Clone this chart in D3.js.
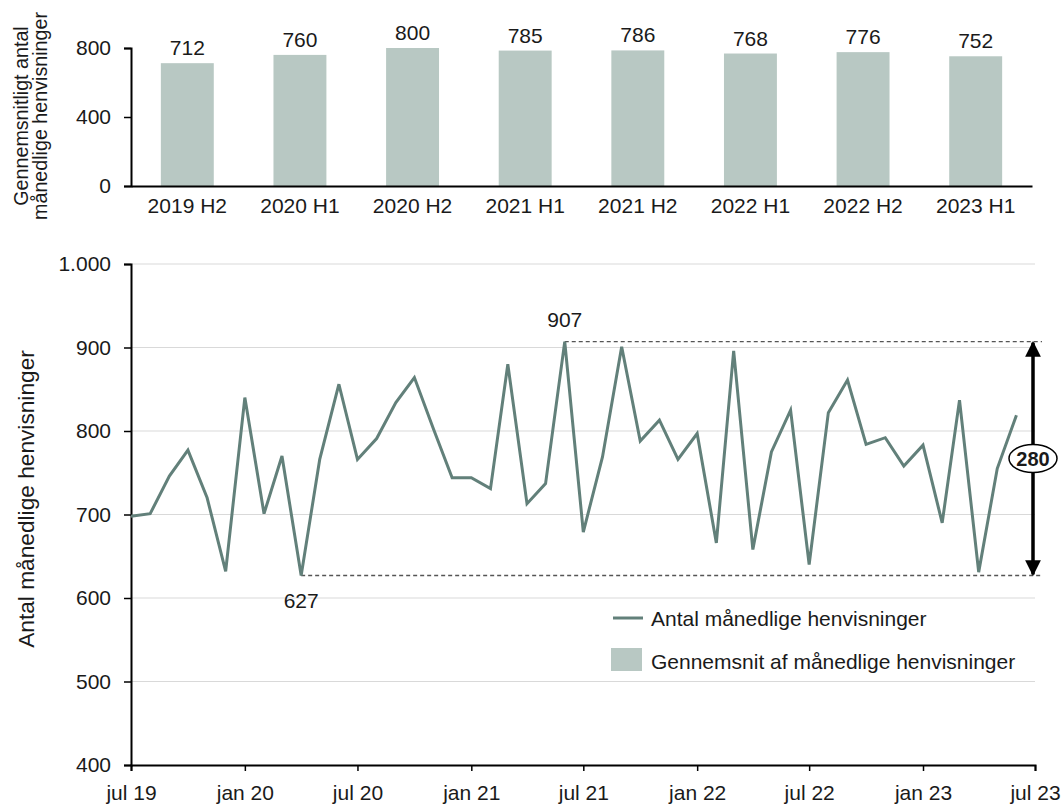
<!DOCTYPE html>
<meta charset="utf-8">
<style>
  body { margin: 0; background: #fff; }
  text { font-family: "Liberation Sans", Arial, sans-serif; fill: #1a1a1a; }
</style>
<svg width="1062" height="805"></svg>
<script src="https://d3js.org/d3.v7.min.js"></script>
<script>

// half-year averages (top panel)
var halves = ["2019 H2", "2020 H1", "2020 H2", "2021 H1", "2021 H2", "2022 H1", "2022 H2", "2023 H1"];
var halfAvg = [712, 760, 800, 785, 786, 768, 776, 752];

// monthly counts jul 19 .. jun 23
var monthly = [698, 701, 746, 777, 720, 632, 840, 701, 770, 627, 766, 856,
               766, 791, 834, 864, 802, 744, 744, 731, 880, 713, 737, 907,
               679, 769, 901, 788, 813, 766, 797, 666, 896, 658, 775, 825,
               640, 822, 861, 784, 792, 758, 783, 690, 837, 631, 755, 819];
var yTicks = [400, 500, 600, 700, 800, 900, 1000];
var topTicks = [0, 400, 800];

var lineColor = "#62807a";
var barColor = "#b8c8c3";
var fs = 21;
var font = "Liberation Sans, Arial, sans-serif";

var svg = d3.select("svg");

function styleAxis(g) {
  g.select(".domain").attr("stroke", "#000").attr("stroke-width", 2);
  g.selectAll(".tick line").attr("stroke", "#000").attr("stroke-width", 1.5);
  g.selectAll("text").attr("font-size", fs).attr("fill", "#1a1a1a").attr("font-family", font);
}

// ---------- top panel ----------
var xb = d3.scaleBand().domain(halves).range([131, 1032]).paddingInner(0.53).paddingOuter(0.265);
var yb = d3.scaleLinear().domain([0, 800]).range([186, 48]);

svg.append("g").selectAll("rect")
  .data(halfAvg)
  .enter().append("rect")
  .attr("x", function(d, i) { return xb(halves[i]); })
  .attr("width", xb.bandwidth())
  .attr("y", function(d) { return yb(d); })
  .attr("height", function(d) { return yb(0) - yb(d); })
  .attr("fill", barColor);

svg.append("g").selectAll("text")
  .data(halfAvg)
  .enter().append("text")
  .attr("x", function(d, i) { return xb(halves[i]) + xb.bandwidth() / 2; })
  .attr("y", function(d) { return yb(d) - 8; })
  .attr("text-anchor", "middle")
  .attr("font-size", fs)
  .text(function(d) { return d; });

svg.append("g")
  .attr("transform", "translate(131,0)")
  .call(d3.axisLeft(yb).tickValues(topTicks).tickSize(7).tickPadding(13))
  .call(styleAxis);

svg.append("g")
  .attr("transform", "translate(0,186)")
  .call(d3.axisBottom(xb).tickSize(0).tickPadding(12))
  .call(styleAxis);

svg.append("text")
  .attr("transform", "translate(28,116) rotate(-90)")
  .attr("text-anchor", "middle")
  .attr("font-size", 19.7)
  .selectAll("tspan")
  .data(["Gennemsnitligt antal", "månedlige henvisninger"])
  .enter().append("tspan")
  .attr("x", 0)
  .attr("dy", function(d, i) { return i === 0 ? 0 : 19; })
  .text(function(d) { return d; });

// ---------- bottom panel ----------
var start = new Date(2019, 6, 1), end = new Date(2023, 6, 1);
var months = d3.timeMonth.range(start, end); // jul 19 .. jun 23
var x = d3.scaleTime().domain([start, end]).range([131, 1035]);
var y = d3.scaleLinear().domain([400, 1000]).range([765, 264]);

// gridlines
svg.append("g").selectAll("line")
  .data(yTicks.filter(function(d) { return d > 400; }))
  .enter().append("line")
  .attr("x1", 131).attr("x2", 1035)
  .attr("y1", function(d) { return y(d); })
  .attr("y2", function(d) { return y(d); })
  .attr("stroke", "#d9d9d9").attr("stroke-width", 1.2);

var monthName = ["jan", "feb", "mar", "apr", "maj", "jun", "jul", "aug", "sep", "okt", "nov", "dec"];
svg.append("g")
  .attr("transform", "translate(0,765)")
  .call(d3.axisBottom(x).ticks(d3.timeMonth.every(6)).tickSize(6).tickPadding(14)
    .tickFormat(function(d) { return monthName[d.getMonth()] + " " + String(d.getFullYear()).slice(2); }))
  .call(styleAxis);

svg.append("g")
  .attr("transform", "translate(131,0)")
  .call(d3.axisLeft(y).tickValues(yTicks).tickSize(7).tickPadding(13)
    .tickFormat(function(d) { return d >= 1000 ? "1.000" : d; }))
  .call(styleAxis);

svg.append("text")
  .attr("transform", "translate(34,499) rotate(-90)")
  .attr("text-anchor", "middle")
  .attr("font-size", 22.7)
  .text("Antal månedlige henvisninger");

// min/max annotation
var maxV = d3.max(monthly), minV = d3.min(monthly);
var iMax = monthly.indexOf(maxV), iMin = monthly.indexOf(minV);
var arrowX = 1033;

svg.append("line")
  .attr("x1", x(months[iMax])).attr("x2", 1042)
  .attr("y1", y(maxV)).attr("y2", y(maxV))
  .attr("stroke", "#555").attr("stroke-width", 1.4).attr("stroke-dasharray", "4,3");
svg.append("line")
  .attr("x1", x(months[iMin])).attr("x2", 1042)
  .attr("y1", y(minV)).attr("y2", y(minV))
  .attr("stroke", "#555").attr("stroke-width", 1.4).attr("stroke-dasharray", "4,3");

// monthly line
var line = d3.line()
  .x(function(d, i) { return x(months[i]); })
  .y(function(d) { return y(d); });

svg.append("path")
  .datum(monthly)
  .attr("d", line)
  .attr("fill", "none")
  .attr("stroke", lineColor)
  .attr("stroke-width", 3);

svg.append("text")
  .attr("x", x(months[iMax])).attr("y", y(maxV) - 15)
  .attr("text-anchor", "middle").attr("font-size", fs)
  .text(maxV);
svg.append("text")
  .attr("x", x(months[iMin])).attr("y", y(minV) + 33)
  .attr("text-anchor", "middle").attr("font-size", fs)
  .text(minV);

// double arrow
svg.append("defs").append("marker")
  .attr("id", "ah").attr("viewBox", "0 0 10 10")
  .attr("refX", 9).attr("refY", 5)
  .attr("markerWidth", 4.5).attr("markerHeight", 4.5)
  .attr("markerUnits", "strokeWidth")
  .attr("orient", "auto-start-reverse")
  .append("path").attr("d", "M0,0 L10,5 L0,10 z").attr("fill", "#000");

svg.append("line")
  .attr("x1", arrowX).attr("x2", arrowX)
  .attr("y1", y(maxV) + 1).attr("y2", y(minV) - 1)
  .attr("stroke", "#000").attr("stroke-width", 3.5)
  .attr("marker-start", "url(#ah)").attr("marker-end", "url(#ah)");

var midY = (y(maxV) + y(minV)) / 2;
svg.append("ellipse")
  .attr("cx", arrowX).attr("cy", midY)
  .attr("rx", 24).attr("ry", 14)
  .attr("fill", "#fff").attr("stroke", "#000").attr("stroke-width", 1.5);
svg.append("text")
  .attr("x", arrowX).attr("y", midY + 7)
  .attr("text-anchor", "middle").attr("font-size", 20).attr("font-weight", "bold")
  .text(maxV - minV);

// legend
var legend = svg.append("g");
legend.append("line")
  .attr("x1", 613).attr("x2", 643).attr("y1", 618).attr("y2", 618)
  .attr("stroke", lineColor).attr("stroke-width", 3);
legend.append("text")
  .attr("x", 651).attr("y", 626).attr("font-size", fs)
  .text("Antal månedlige henvisninger");
legend.append("rect")
  .attr("x", 611).attr("y", 648).attr("width", 31).attr("height", 23)
  .attr("fill", barColor);
legend.append("text")
  .attr("x", 651).attr("y", 669).attr("font-size", fs)
  .text("Gennemsnit af månedlige henvisninger");

</script>
